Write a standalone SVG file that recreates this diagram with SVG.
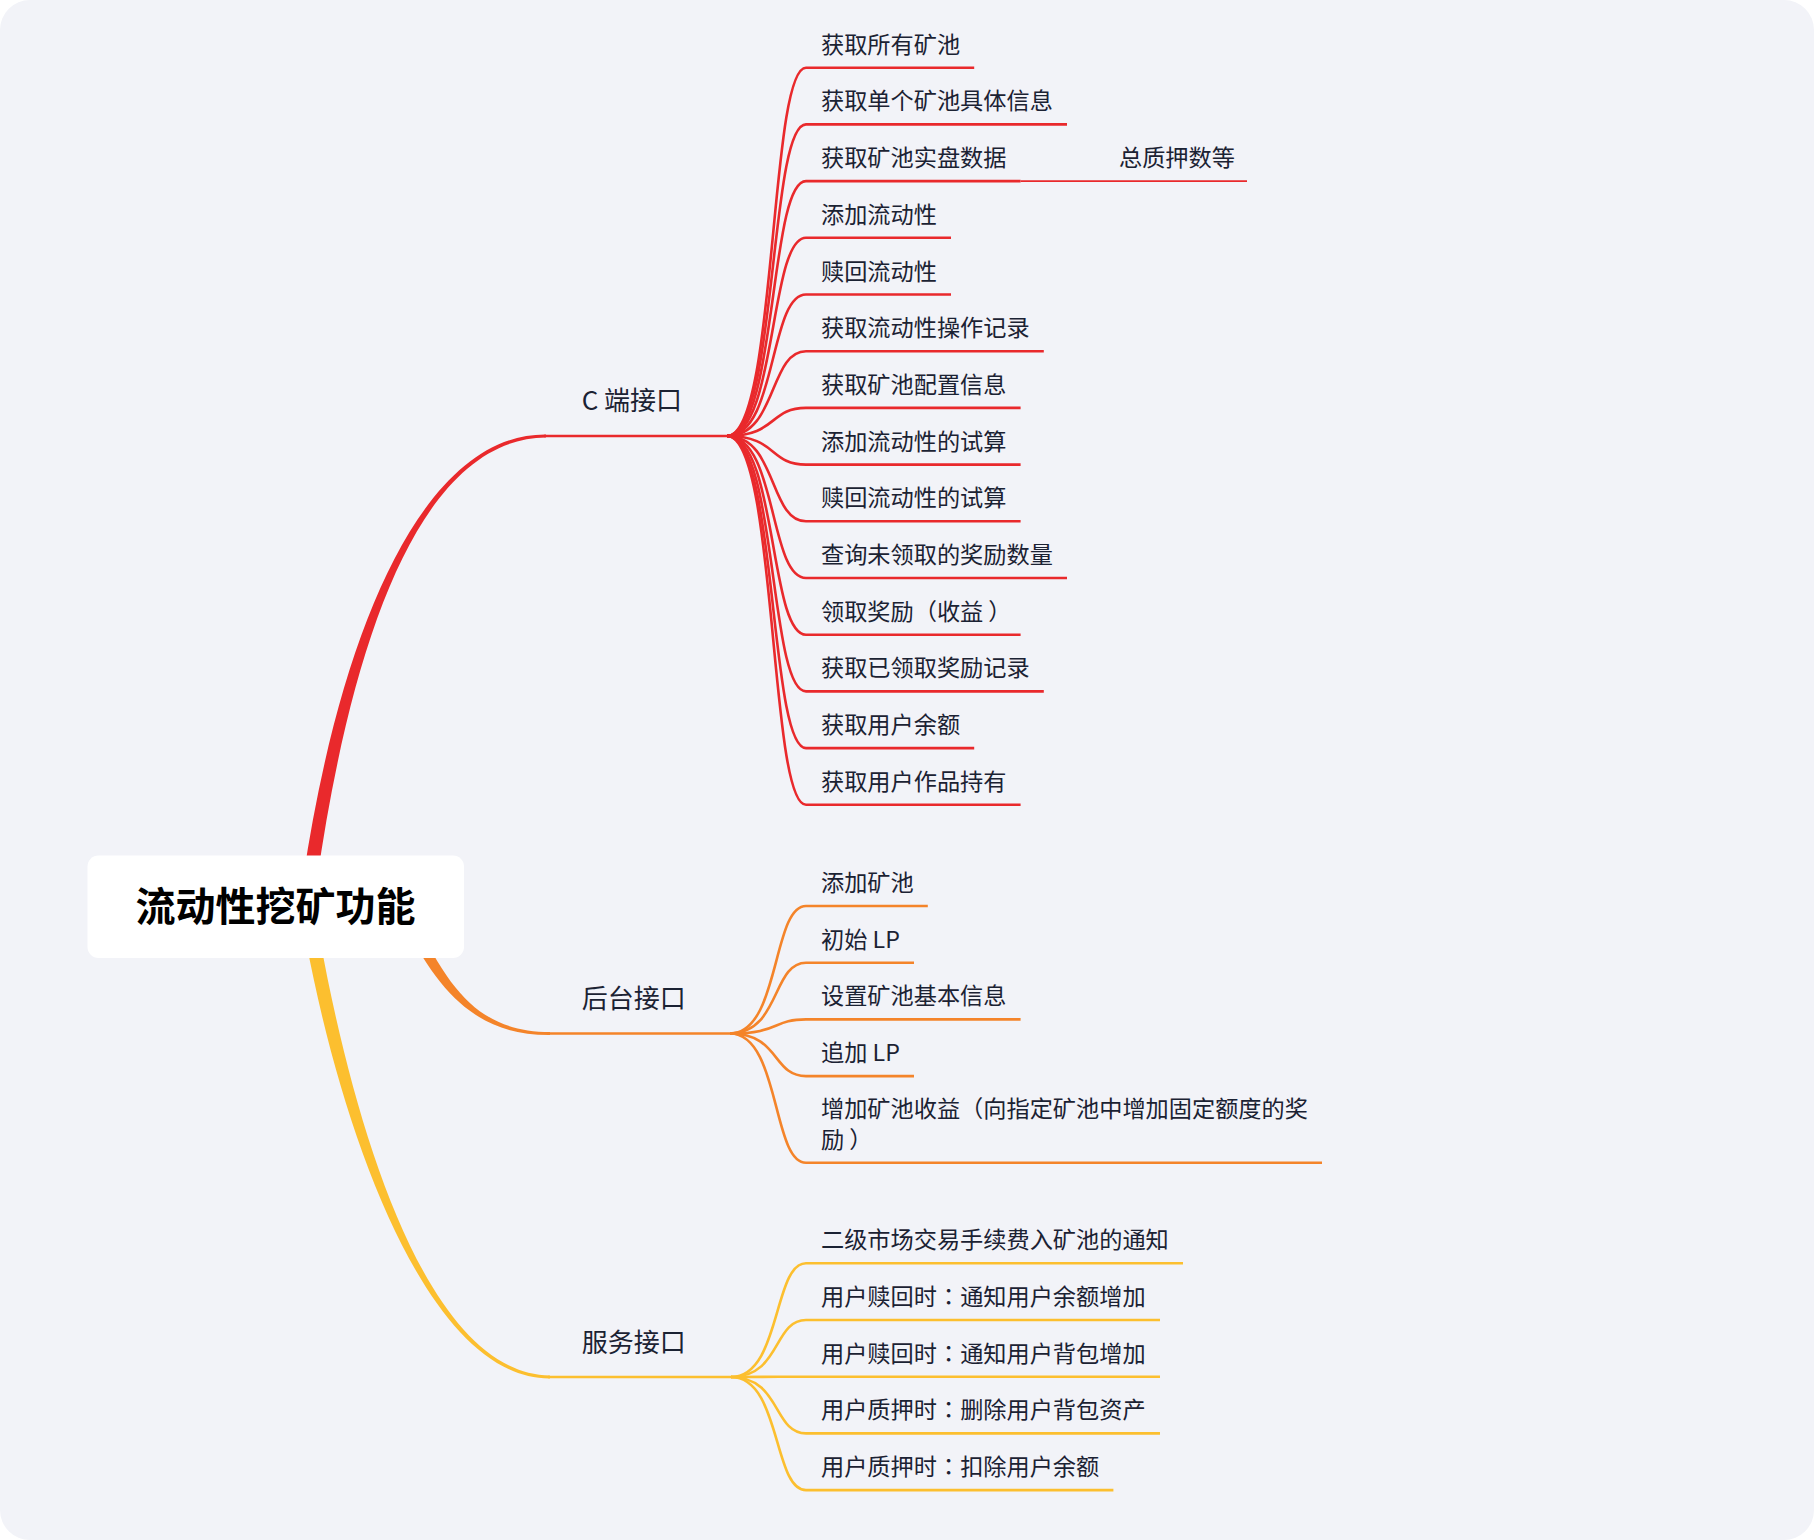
<svg xmlns="http://www.w3.org/2000/svg" width="1814" height="1540" viewBox="0 0 1814 1540">
<style>
.t{font-family:"Noto Sans CJK SC","Noto Sans",sans-serif;font-size:23.2px;fill:#1b2233}
.p{font-family:"Noto Sans CJK TC","Noto Sans CJK SC",sans-serif}
.b{font-family:"Noto Sans CJK SC","Noto Sans",sans-serif;font-size:26px;fill:#1b2233}
.root{font-family:"Noto Sans CJK SC","Noto Sans",sans-serif;font-size:40px;font-weight:700;fill:#000}
.r{fill:none;stroke:#e9292c;stroke-width:2.6}
.o{fill:none;stroke:#f4842a;stroke-width:2.6}
.y{fill:none;stroke:#fcbf2f;stroke-width:2.6}
</style>
<rect x="0" y="0" width="1814" height="1540" fill="#ffffff"/>
<rect x="0" y="0" width="1814" height="1540" rx="30" fill="#f2f3f8"/>
<g id="connectors">
<path fill="#e9292c" d="M303.1 879 C338.6 639.1 420 433.5 546 434.5 L546 437.5 C420 438.5 351.4 640.9 316.9 881 Z"/>
<path class="r" d="M544 436 L728 436"/>
<path fill="#f4842a" d="M404.6 924.6 C443.5 1002.2 485 1035.5 550 1035 L550 1032 C485 1031.5 452.5 997.8 415.4 919.4 Z"/>
<path class="o" d="M548 1033.5 L731 1033.5"/>
<path fill="#fcbf2f" d="M306.1 941.3 C343.6 1141.2 430 1379.5 550 1378.5 L550 1375.5 C430 1374.5 356.4 1138.8 319.9 938.7 Z"/>
<path class="y" d="M548 1377 L732 1377"/>
<path class="r" d="M727 436 C777 436 769 67.7 806 67.7 L974.2 67.7"/>
<path class="r" d="M727 436 C777 436 769 124.4 806 124.4 L1067 124.4"/>
<path class="r" d="M727 436 C777 436 769 181.1 806 181.1 L1020.6 181.1"/>
<path class="r" style="stroke-width:1.8" d="M1020.6 181.1 L1247 181.1"/>
<path class="r" d="M727 436 C777 436 769 237.8 806 237.8 L951 237.8"/>
<path class="r" d="M727 436 C777 436 769 294.5 806 294.5 L951 294.5"/>
<path class="r" d="M727 436 C777 436 769 351.2 806 351.2 L1043.8 351.2"/>
<path class="r" d="M727 436 C777 436 769 407.9 806 407.9 L1020.6 407.9"/>
<path class="r" d="M727 436 C777 436 769 464.6 806 464.6 L1020.6 464.6"/>
<path class="r" d="M727 436 C777 436 769 521.3 806 521.3 L1020.6 521.3"/>
<path class="r" d="M727 436 C777 436 769 578 806 578 L1067 578"/>
<path class="r" d="M727 436 C777 436 769 634.7 806 634.7 L1020.6 634.7"/>
<path class="r" d="M727 436 C777 436 769 691.4 806 691.4 L1043.8 691.4"/>
<path class="r" d="M727 436 C777 436 769 748.1 806 748.1 L974.2 748.1"/>
<path class="r" d="M727 436 C777 436 769 804.8 806 804.8 L1020.6 804.8"/>
<path class="o" d="M730 1033.5 C780 1033.5 772 906 806 906 L927.8 906"/>
<path class="o" d="M730 1033.5 C780 1033.5 772 962.7 806 962.7 L914 962.7"/>
<path class="o" d="M730 1033.5 C780 1033.5 772 1019.4 806 1019.4 L1020.6 1019.4"/>
<path class="o" d="M730 1033.5 C780 1033.5 772 1076.1 806 1076.1 L914 1076.1"/>
<path class="o" d="M730 1033.5 C780 1033.5 772 1162.8 806 1162.8 L1322 1162.8"/>
<path class="y" d="M731 1377 C781 1377 773 1263.3 806 1263.3 L1183 1263.3"/>
<path class="y" d="M731 1377 C781 1377 773 1320 806 1320 L1160 1320"/>
<path class="y" d="M731 1377 C781 1377 773 1376.7 806 1376.7 L1160 1376.7"/>
<path class="y" d="M731 1377 C781 1377 773 1433.4 806 1433.4 L1160 1433.4"/>
<path class="y" d="M731 1377 C781 1377 773 1490.1 806 1490.1 L1113.4 1490.1"/>
</g>
<g id="root">
<rect x="87.5" y="855.5" width="376.5" height="102.5" rx="11" fill="#ffffff"/>
<text class="root" x="275.5" y="921" text-anchor="middle">流动性挖矿功能</text>
</g>
<g id="c-api"><text class="b" x="581.7" y="410.2">C 端接口</text></g>
<g id="admin-api"><text class="b" x="581.7" y="1008">后台接口</text></g>
<g id="service-api"><text class="b" x="581.7" y="1351.8">服务接口</text></g>
<g id="c1"><text class="t" x="821" y="52.7">获取所有矿池</text></g>
<g id="c2"><text class="t" x="821" y="109.4">获取单个矿池具体信息</text></g>
<g id="c3"><text class="t" x="821" y="166.1">获取矿池实盘数据</text></g>
<g id="c3a"><text class="t" x="1119" y="166.1">总质押数等</text></g>
<g id="c4"><text class="t" x="821" y="222.8">添加流动性</text></g>
<g id="c5"><text class="t" x="821" y="279.5">赎回流动性</text></g>
<g id="c6"><text class="t" x="821" y="336.2">获取流动性操作记录</text></g>
<g id="c7"><text class="t" x="821" y="392.9">获取矿池配置信息</text></g>
<g id="c8"><text class="t" x="821" y="449.6">添加流动性的试算</text></g>
<g id="c9"><text class="t" x="821" y="506.3">赎回流动性的试算</text></g>
<g id="c10"><text class="t" x="821" y="563">查询未领取的奖励数量</text></g>
<g id="c11"><text class="t" x="821" y="619.7">领取奖励（收益<tspan dx="5">）</tspan></text></g>
<g id="c12"><text class="t" x="821" y="676.4">获取已领取奖励记录</text></g>
<g id="c13"><text class="t" x="821" y="733.1">获取用户余额</text></g>
<g id="c14"><text class="t" x="821" y="789.8">获取用户作品持有</text></g>
<g id="a1"><text class="t" x="821" y="891">添加矿池</text></g>
<g id="a2"><text class="t" x="821" y="947.7">初始 LP</text></g>
<g id="a3"><text class="t" x="821" y="1004.4">设置矿池基本信息</text></g>
<g id="a4"><text class="t" x="821" y="1061.1">追加 LP</text></g>
<g id="a5"><text class="t" x="821" y="1117.3">增加矿池收益（向指定矿池中增加固定额度的奖</text><text class="t" x="821" y="1147.8">励<tspan dx="5">）</tspan></text></g>
<g id="s1"><text class="t" x="821" y="1248.3">二级市场交易手续费入矿池的通知</text></g>
<g id="s2"><text class="t" x="821" y="1305">用户赎回时<tspan class="p">：</tspan>通知用户余额增加</text></g>
<g id="s3"><text class="t" x="821" y="1361.7">用户赎回时<tspan class="p">：</tspan>通知用户背包增加</text></g>
<g id="s4"><text class="t" x="821" y="1418.4">用户质押时<tspan class="p">：</tspan>删除用户背包资产</text></g>
<g id="s5"><text class="t" x="821" y="1475.1">用户质押时<tspan class="p">：</tspan>扣除用户余额</text></g>
</svg>
